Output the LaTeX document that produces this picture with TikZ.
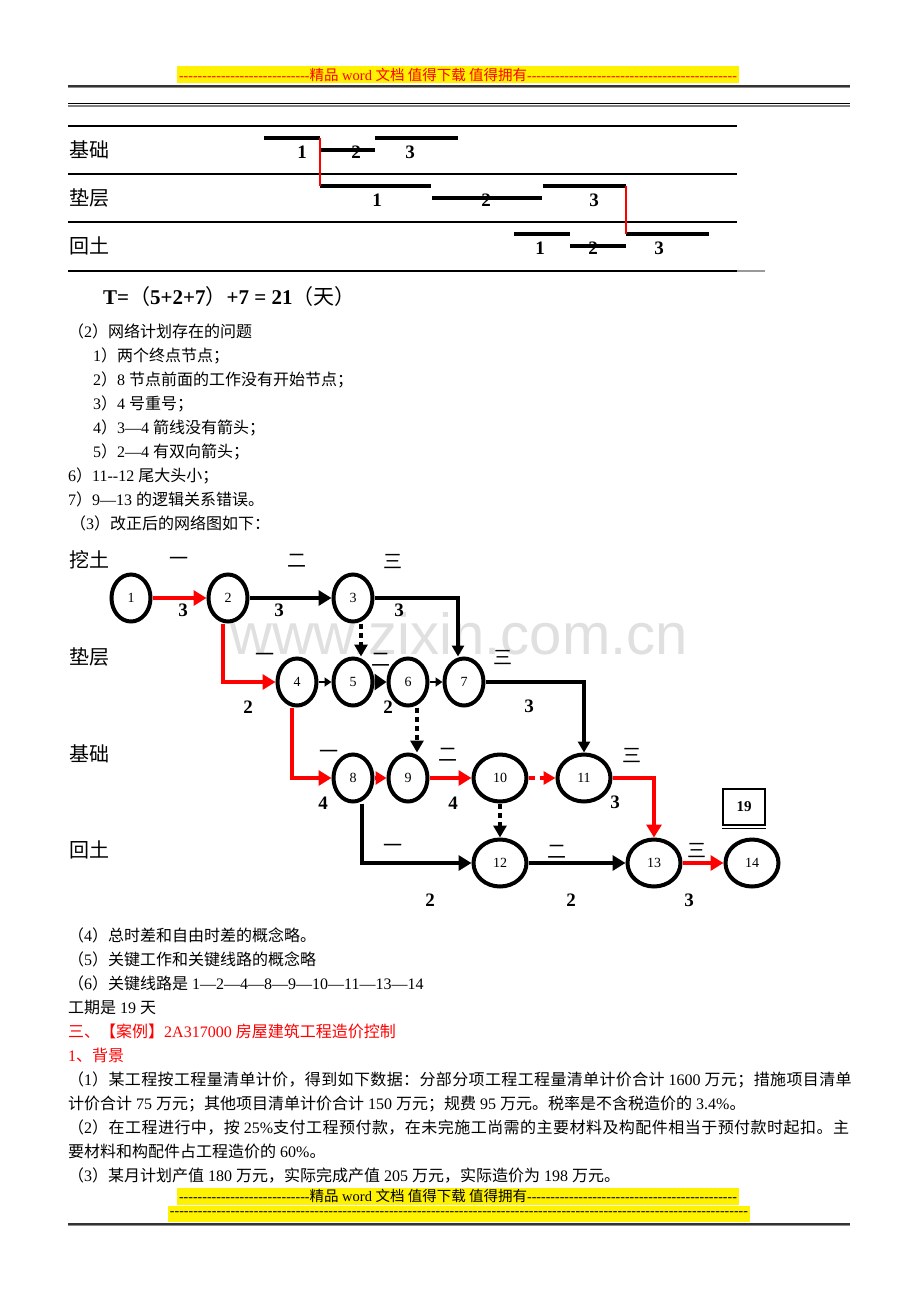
\documentclass[tikz,border=0pt]{standalone}
\usepackage{fontspec}
\usetikzlibrary{arrows.meta,shapes.geometric}
\newfontfamily\en{Liberation Serif}
\newfontfamily\zh{Noto Sans CJK SC}
\newfontfamily\zhs{Noto Sans CJK SC}[LetterSpace=2.3]
\newfontfamily\zht{Noto Sans CJK SC}[LetterSpace=2.9]
\newfontfamily\wm{Liberation Sans}
\newcommand\z[1]{{\zh #1}}
\newcommand\zs[1]{{\zhs #1}}
\newcommand\zt[1]{{\zht #1}}
\newcommand\hy[1]{\foreach \i in {1,...,#1}{-}}

\begin{document}
\begin{tikzpicture}[
      x = 1pt, y = -1pt,
      every node/.style = {inner sep = 0pt, font = \en\fontsize{16}{16}\selectfont},
      txt/.style = {anchor = base west},
      lab/.style = {anchor = west, font = \zh\fontsize{20}{20}\selectfont},
      num/.style = {font = \en\bfseries\fontsize{19}{19}\selectfont},
      ph/.style = {font = \zh\fontsize{19}{19}\selectfont},
      event/.style = {ellipse, draw, line width = 4pt, minimum width = 39pt,
        minimum height = 47pt, font = \en\fontsize{14}{14}\selectfont},
      wide/.style = {event, minimum width = 53pt},
      banner/.style = {fill = yellow, inner xsep = 2pt, minimum height = 17pt,
        font = \en\fontsize{14}{14}\selectfont},
      bar/.style = {line width = 4pt},
      arr/.style = {line width = 4pt, -{Triangle[length = 13pt, width = 15pt]}},
      dots/.style = {line width = 4.5pt, dash pattern = on 5pt off 4pt,
        -{Triangle[length = 12pt, width = 13pt]}},
      tiny/.style = {line width = 2pt, -{Triangle[length = 7pt, width = 9pt]}}
      ]
    \fill[white] (0,0) rectangle (920,1302);
    \useasboundingbox (0,0) rectangle (920,1302);

    % page head
    \node[banner, text = red] (head) at (458,74.5)
      {\hy{28}{\fontsize{14.5}{14.5}\selectfont\z{精品} word \z{文档 值得下载 值得拥有}}\hy{45}};
    \draw[line width = 1.3pt, black!80] (68,86) -- (850,86);
    \draw[line width = 1.3pt, black!45] (68,87.6) -- (850,87.6);
    \draw[line width = 1.2pt] (68,103.5) -- (850,103.5);
    \draw[line width = 1.5pt, black!50] (68,106) -- (850,106);

    % bar chart
    \foreach \y in {126,174,222}
      \draw[line width = 1.2pt] (68,\y) -- (737,\y);
    \draw[line width = 1.8pt] (68,271) -- (737,271);
    \draw[line width = 1.8pt, black!40] (737,271) -- (765,271);

    \node[lab] (jc) at (69,150) {基础};
    \node[lab] (dc) at (69,198) {垫层};
    \node[lab] (ht) at (69,246) {回土};

    \draw[bar] (264,138) -- (320,138);
    \draw[bar] (320,150) -- (375,150);
    \draw[bar] (375,138) -- (458,138);
    \draw[bar] (320,186) -- (431,186);
    \draw[bar] (432,198) -- (542,198);
    \draw[bar] (543,186) -- (626,186);
    \draw[bar] (514,234) -- (570,234);
    \draw[bar] (570,246) -- (626,246);
    \draw[bar] (626,234) -- (709,234);
    \draw[line width = 1.2pt, red] (320,138) -- (320,186);
    \draw[line width = 1.2pt, red] (626,186) -- (626,234);

    \node[num] at (302,152) {1};
    \node[num] at (356,152) {2};
    \node[num] at (410,152) {3};
    \node[num] at (377,200) {1};
    \node[num] at (486,200) {2};
    \node[num] at (594,200) {3};
    \node[num] at (540,248) {1};
    \node[num] at (593,248) {2};
    \node[num] at (659,248) {3};

    \node[txt, font = \en\bfseries\fontsize{21}{21}\selectfont] at (103,304)
      {T=\z{\mdseries（}5+2+7\z{\mdseries）}+7 = 21\z{\mdseries（天）}};

    % notes
    \node[txt] at (68,337) {\z{（}2\z{）网络计划存在的问题}};
    \node[txt] at (93,361) {1\z{）两个终点节点；}};
    \node[txt] at (93,385) {2\z{）}8 \z{节点前面的工作没有开始节点；}};
    \node[txt] at (93,409) {3\z{）}4 \z{号重号；}};
    \node[txt] at (93,433) {4\z{）}3—4 \z{箭线没有箭头；}};
    \node[txt] at (93,457) {5\z{）}2—4 \z{有双向箭头；}};
    \node[txt] at (68,481) {6\z{）}11--12 \z{尾大头小；}};
    \node[txt] at (68,505) {7\z{）}9—13 \z{的逻辑关系错误。}};
    \node[txt] at (70,529) {\z{（}3\z{）改正后的网络图如下：}};

    % network
    \node[font = \wm\fontsize{58}{58}\selectfont, text = black!12] (mark)
      at (459,634) {www.zixin.com.cn};

    \node[lab] (wt) at (69,560) {挖土};
    \node[lab] (dc2) at (69,657) {垫层};
    \node[lab] (jc2) at (69,754) {基础};
    \node[lab] (ht2) at (69,850) {回土};

    \node[event] (n1) at (131,598) {1};
    \node[event] (n2) at (228,598) {2};
    \node[event] (n3) at (353,598) {3};
    \node[event] (n4) at (297,682) {4};
    \node[event] (n5) at (353,682) {5};
    \node[event] (n6) at (408,682) {6};
    \node[event] (n7) at (464,682) {7};
    \node[event] (n8) at (353,778) {8};
    \node[event] (n9) at (408,778) {9};
    \node[wide] (n10) at (500,778) {10};
    \node[wide] (n11) at (584,778) {11};
    \node[wide] (n12) at (500,863) {12};
    \node[wide] (n13) at (654,863) {13};
    \node[wide] (n14) at (752,863) {14};

    \draw[arr, red] (n1) -- (n2);
    \draw[arr] (n2) -- (n3);
    \draw[arr, line width = 3.5pt, -{Triangle[length = 11pt, width = 12pt]}]
      (n3.east) -| ([xshift = -6pt]n7.north);
    \draw[dots] ([xshift = 8pt]n3.south) -- ([xshift = 8pt]n5.north);
    \draw[arr, red] ([xshift = -5pt]n2.south) |- (n4.west);
    \draw[tiny] (n4) -- (n5);
    \draw[arr, -{Triangle[length = 12pt, width = 16pt]}] (n5) -- (n6);
    \draw[tiny] (n6) -- (n7);
    \draw[arr, line width = 3.5pt, -{Triangle[length = 11pt, width = 12pt]}]
      (n7.east) -| (n11.north);
    \draw[dots] ([xshift = 9pt]n6.south) -- ([xshift = 9pt]n9.north);
    \draw[arr, red] ([xshift = -5pt]n4.south) |- (n8.west);
    \draw[arr, red, -{Triangle[length = 11pt, width = 13pt]}] (n8) -- (n9);
    \draw[arr, red] (n9) -- (n10);
    \draw[arr, red, dash pattern = on 6pt off 5pt,
      -{Triangle[length = 12pt, width = 13pt]}] (n10) -- (n11);
    \draw[dots] (n10) -- (n12);
    \draw[arr, red] (n11.east) -| (n13.north);
    \draw[arr] ([xshift = 9pt]n8.south) |- (n12.west);
    \draw[arr] (n12) -- (n13);
    \draw[arr, red] (n13) -- (n14);

    \node[ph] at (179,561) {一};
    \node[ph] at (297,561) {二};
    \node[ph] at (393,561) {三};
    \node[ph] at (265,657) {一};
    \node[ph] at (381,660) {二};
    \node[ph] at (503,657) {三};
    \node[ph] at (329,754) {一};
    \node[ph] at (448,755) {二};
    \node[ph] at (632,755) {三};
    \node[ph] at (393,848) {一};
    \node[ph] at (557,852) {二};
    \node[ph] at (697,850) {三};

    \node[num] at (183,610) {3};
    \node[num] at (279,610) {3};
    \node[num] at (399,610) {3};
    \node[num] at (248,707) {2};
    \node[num] at (388,707) {2};
    \node[num] at (529,706) {3};
    \node[num] at (323,803) {4};
    \node[num] at (453,803) {4};
    \node[num] at (615,802) {3};
    \node[num] at (430,900) {2};
    \node[num] at (571,900) {2};
    \node[num] at (689,900) {3};

    \node[draw, line width = 1.3pt, minimum width = 42pt, minimum height = 36pt,
      font = \en\bfseries\fontsize{15}{15}\selectfont] (days) at (744,807) {19};
    \draw[line width = 1.3pt] ([yshift = -3pt]days.south west)
      -- ([yshift = -3pt]days.south east);

    % answers and case text
    \node[txt] at (68,941) {\z{（}4\z{）总时差和自由时差的概念略。}};
    \node[txt] at (68,965) {\z{（}5\z{）关键工作和关键线路的概念略}};
    \node[txt] at (68,989) {\z{（}6\z{）关键线路是} 1—2—4—8—9—10—11—13—14};
    \node[txt] at (68,1013) {\z{工期是} 19 \z{天}};
    \node[txt, text = red] at (68,1037)
      {\z{三、【案例】}2A317000 \z{房屋建筑工程造价控制}};
    \node[txt, text = red] at (68,1061) {1\z{、背景}};
    \node[txt] at (68,1085) {\zs{（}1\zs{）某工程按工程量清单计价，得到如下数据：分部分项工程工程量清单计价合计} 1600 \zs{万元；措施项目清单}};
    \node[txt] at (68,1109) {\z{计价合计} 75 \z{万元；其他项目清单计价合计} 150 \z{万元；规费} 95 \z{万元。税率是不含税造价的} 3.4\%\z{。}};
    \node[txt] at (68,1133) {\zt{（}2\zt{）在工程进行中，按} 25\%\zt{支付工程预付款，在未完施工尚需的主要材料及构配件相当于预付款时起扣。主}};
    \node[txt] at (68,1157) {\z{要材料和构配件占工程造价的} 60\%\z{。}};
    \node[txt] at (68,1181) {\z{（}3\z{）某月计划产值} 180 \z{万元，实际完成产值} 205 \z{万元，实际造价为} 198 \z{万元。}};

    % page foot
    \node[banner] (foot) at (458,1196)
      {\hy{28}{\fontsize{14.5}{14.5}\selectfont\z{精品} word \z{文档 值得下载 值得拥有}}\hy{45}};
    \node[banner, minimum height = 16pt] (foot2) at (459,1214) {\hy{124}};
    \draw[line width = 1.3pt, black!80] (68,1224) -- (850,1224);
    \draw[line width = 1.3pt, black!45] (68,1225.6) -- (850,1225.6);
  \end{tikzpicture}
\end{document}
